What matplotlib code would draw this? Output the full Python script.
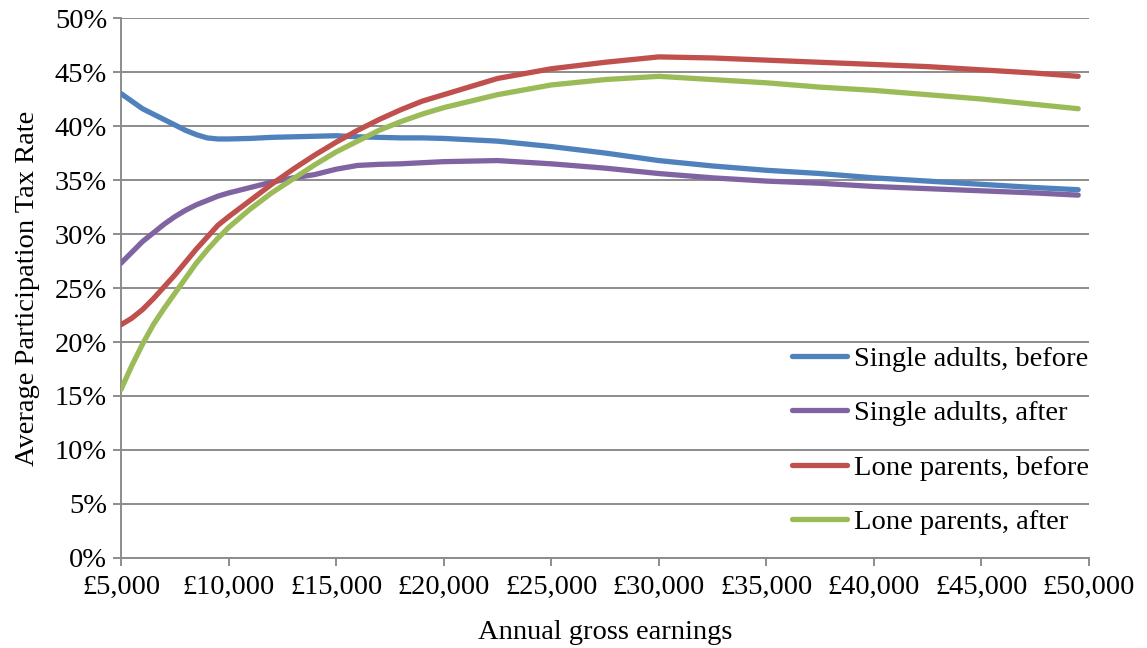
import matplotlib
matplotlib.use("Agg")
import matplotlib.pyplot as plt
from matplotlib.ticker import FuncFormatter, MultipleLocator

earnings = [5000, 5500, 6000, 6500, 7000, 7500, 8000, 8500, 9000, 9500, 10000,
            11000, 12000, 13000, 14000, 15000, 16000, 17000, 18000, 19000, 20000,
            22500, 25000, 27500, 30000, 32500, 35000, 37500, 40000, 42500, 45000,
            47500, 49500]

single_before = [43.0, 42.3, 41.6, 41.1, 40.6, 40.1, 39.6, 39.2, 38.9, 38.8, 38.8,
                 38.85, 38.95, 39.0, 39.05, 39.1, 39.0, 38.95, 38.9, 38.9, 38.85,
                 38.6, 38.1, 37.5, 36.8, 36.3, 35.9, 35.6, 35.2, 34.9, 34.6, 34.3, 34.1]
single_after = [27.3, 28.3, 29.3, 30.1, 30.9, 31.6, 32.2, 32.7, 33.1, 33.5, 33.8,
                34.3, 34.8, 35.2, 35.5, 36.0, 36.35, 36.45, 36.5, 36.6, 36.7,
                36.8, 36.5, 36.1, 35.6, 35.2, 34.9, 34.7, 34.4, 34.2, 34.0, 33.8, 33.6]
lone_before = [21.6, 22.2, 23.0, 24.0, 25.1, 26.2, 27.4, 28.6, 29.7, 30.8, 31.6,
               33.1, 34.6, 36.0, 37.3, 38.5, 39.6, 40.6, 41.5, 42.3, 42.9,
               44.4, 45.3, 45.9, 46.4, 46.3, 46.1, 45.9, 45.7, 45.5, 45.2, 44.9, 44.6]
lone_after = [15.6, 17.8, 19.8, 21.6, 23.1, 24.5, 25.9, 27.3, 28.5, 29.6, 30.6,
              32.3, 33.8, 35.1, 36.4, 37.6, 38.6, 39.6, 40.4, 41.1, 41.7,
              42.9, 43.8, 44.3, 44.6, 44.3, 44.0, 43.6, 43.3, 42.9, 42.5, 42.0, 41.6]

series_labels = ["Single adults, before", "Single adults, after",
                 "Lone parents, before", "Lone parents, after"]
colors = ["#4F81BD", "#8064A2", "#C0504D", "#9BBB59"]

plt.rcParams['font.family'] = ['Liberation Serif', 'DejaVu Serif']
FS = 20.5

fig = plt.figure(figsize=(11.47, 6.48), dpi=100)
ax = fig.add_axes([0.1055, 0.1389, 0.8439, 0.8333])

for vals, lab, col in zip([single_before, single_after, lone_before, lone_after],
                          series_labels, colors):
    ax.plot(earnings, vals, color=col, lw=3.8, label=lab,
            solid_capstyle='round', zorder=3)

ax.set_xlim(5000, 50000)
ax.set_ylim(0, 50)
ax.xaxis.set_major_locator(MultipleLocator(5000))
ax.yaxis.set_major_locator(MultipleLocator(5))
ax.xaxis.set_major_formatter(FuncFormatter(lambda v, p: "£{:,.0f}".format(v)))
ax.yaxis.set_major_formatter(FuncFormatter(lambda v, p: "{:.0f}%".format(v)))

ax.grid(axis='y', color='#8C8C8C', lw=1.4)
ax.set_axisbelow(True)
for s in ['top', 'right']:
    ax.spines[s].set_visible(False)
for s in ['left', 'bottom']:
    ax.spines[s].set_color('#8C8C8C')
    ax.spines[s].set_linewidth(1.4)
ax.tick_params(axis='both', colors='#8C8C8C', length=6, width=1.4,
               labelcolor='black', labelsize=FS)
ax.tick_params(axis='x', pad=6)
ax.tick_params(axis='y', pad=4)

ax.set_xlabel("Annual gross earnings", fontsize=FS, labelpad=15)
ax.set_ylabel("Average Participation Tax Rate", fontsize=FS, labelpad=11)

leg = ax.legend(loc='lower right', bbox_to_anchor=(1.012, 0.021), frameon=False,
                fontsize=FS, handlelength=1.93, handletextpad=0.25,
                labelspacing=1.0, borderaxespad=0.0)

fig.savefig("out.png", dpi=100)
